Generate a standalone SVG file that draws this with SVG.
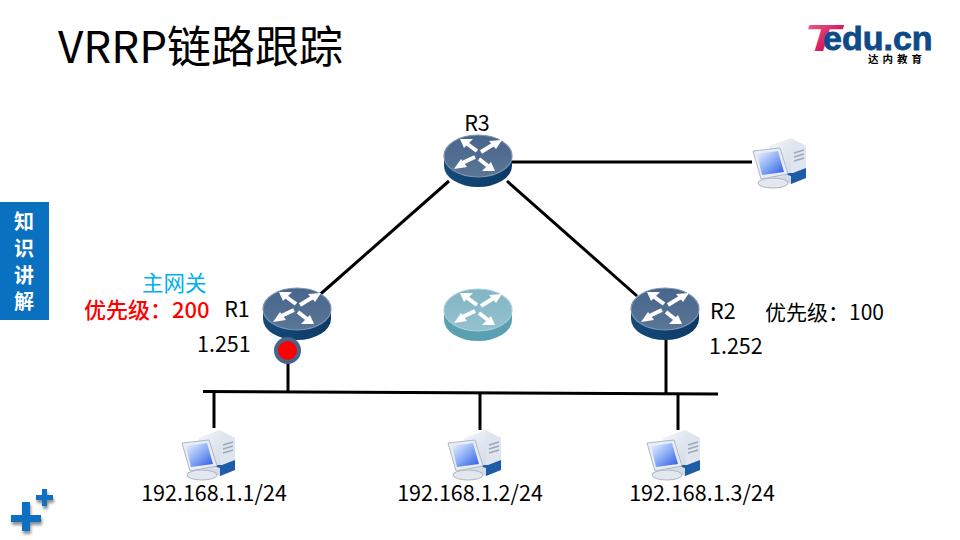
<svg xmlns="http://www.w3.org/2000/svg" width="960" height="540" viewBox="0 0 960 540">
<style>
text{font-family:"Noto Sans CJK SC","Noto Sans",sans-serif;fill:#000}
.lb{font-size:21.500px}
.ln{stroke:#000;stroke-width:3;fill:none}
.ar{fill:#fff}
.sf{stroke:#fff;stroke-width:4;fill:none}
</style>
<defs>
<linearGradient id="top" x1="0" y1="0" x2="0" y2="1"><stop offset="0" stop-color="#47648c"/><stop offset="1" stop-color="#5a7696"/></linearGradient>
<linearGradient id="side" x1="0" y1="0" x2="1" y2="0"><stop offset="0" stop-color="#154a78"/><stop offset="1" stop-color="#0c3a66"/></linearGradient>
<linearGradient id="top2" x1="0" y1="0" x2="0" y2="1"><stop offset="0" stop-color="#82b4c4"/><stop offset="1" stop-color="#94c2cf"/></linearGradient>
<linearGradient id="scr" x1="0" y1="0" x2="1" y2="1"><stop offset="0" stop-color="#f0f5ff"/><stop offset=".55" stop-color="#7fa5f4"/><stop offset="1" stop-color="#2f55e0"/></linearGradient>
<linearGradient id="twr" x1="0" y1="0" x2="1" y2="1"><stop offset="0" stop-color="#f4f6fa"/><stop offset="1" stop-color="#c3cfe0"/></linearGradient>
<linearGradient id="tlogo" x1="0" y1="0" x2="1" y2="1"><stop offset="0" stop-color="#ee6f96"/><stop offset=".6" stop-color="#d2195c"/><stop offset="1" stop-color="#a8103f"/></linearGradient>
<filter id="sh" x="-30%" y="-30%" width="170%" height="170%"><feGaussianBlur in="SourceAlpha" stdDeviation="1.500"/><feOffset dx="1" dy="3"/><feComponentTransfer><feFuncA type="linear" slope=".45"/></feComponentTransfer><feMerge><feMergeNode/><feMergeNode in="SourceGraphic"/></feMerge></filter>
<g id="arrows">
<path class="ar" d="M-18 -17 L-5 -17 L-14 -8 Z"/><path class="sf" d="M-12 -13 L-1 -5"/>
<path class="ar" d="M24 -16 L11 -15 L18 -7 Z"/><path class="sf" d="M16 -12 L3 -4"/>
<path class="ar" d="M-24 13 L-17 3 L-11 11 Z"/><path class="sf" d="M-18 8 L-3 1"/>
<path class="ar" d="M17 15 L4 15 L13 6 Z"/><path class="sf" d="M10 10 L1 3"/>
</g>
<g id="router">
<path d="M-34 0 V10 A34 21 0 0 0 34 10 V0 Z" fill="url(#side)"/>
<ellipse rx="34" ry="21" fill="url(#top)" stroke="#7e95ae" stroke-width="1.200"/>
<use href="#arrows"/>
</g>
<g id="pc">
<path d="M16 8 L38 0 L53 8 V40 L38 46 L16 38 Z" fill="url(#twr)"/>
<path d="M38 4 L53 8 V40 L38 46 Z" fill="#dfe5ee"/>
<path d="M28 35 L38 38 V46 L53 40 V30 L40 35 Z" fill="#1f5ca8"/>
<path d="M41 15 L51 12 M41 19 L51 16 M41 23 L51 20" stroke="#9aa8ba" stroke-width="1.400"/>
<ellipse cx="20" cy="45" rx="15" ry="5" fill="#e4e8ee" stroke="#aab4c2"/>
<path d="M0 13 L27 10 L35 36 L8 41 Z" fill="#e9edf3" stroke="#aeb8c6"/>
<path d="M4 16 L25 13 L31 34 L9 37 Z" fill="url(#scr)"/>
</g>
</defs>
<rect width="960" height="540" fill="#fff"/>
<text x="58" y="63" font-size="44">VRRP链路跟踪</text>
<g id="logo">
<text x="804" y="51" font-size="37" font-weight="700" font-style="italic" textLength="36" lengthAdjust="spacingAndGlyphs" style="font-family:'Liberation Sans',sans-serif;fill:url(#tlogo)">T</text>
<text font-weight="700"><tspan x="823" y="50" font-size="34" stroke="#0d4a8a" stroke-width=".8" style="font-family:'Liberation Sans',sans-serif;fill:#0d4a8a">edu.cn</tspan><tspan x="868" y="63" font-size="10.500" letter-spacing="4" style="fill:#000">达内教育</tspan></text>
</g>
<g id="sidebar">
<rect x="0" y="202" width="49" height="118" fill="#0a70c0"/>
<text font-size="20" font-weight="700" text-anchor="middle" style="fill:#fff"><tspan x="24" y="229">知</tspan><tspan x="24" y="256">识</tspan><tspan x="24" y="283">讲</tspan><tspan x="24" y="309">解</tspan></text>
</g>
<g id="plus" fill="#0a70c0" filter="url(#sh)">
<path d="M22 502 H30 V515 H41 V522 H30 V531 H22 V522 H11 V515 H22 Z"/>
<path d="M42 489 H47 V495 H53 V500 H47 V506 H42 V500 H36 V495 H42 Z"/>
</g>
<g id="connectors">
<path class="ln" d="M512 162 H752"/>
<path class="ln" d="M449 181 L316 298"/>
<path class="ln" d="M507 181 L637 296"/>
<path class="ln" d="M203 391.500 L718 394"/>
<path class="ln" d="M288 360 V392"/>
<path class="ln" d="M666 338 V393"/>
<path class="ln" d="M214 392 V428"/>
<path class="ln" d="M480 393 V430"/>
<path class="ln" d="M678 394 V430"/>
</g>
<g id="R3"><use href="#router" x="478" y="156"/><text class="lb" x="477" y="131" text-anchor="middle">R3</text></g>
<g id="R1"><use href="#router" x="297" y="309"/><text class="lb" x="237" y="317" text-anchor="middle">R1</text><text class="lb" x="197" y="352">1.251</text></g>
<g id="R2"><use href="#router" x="665" y="309"/><text class="lb" x="710" y="319">R2</text><text class="lb" x="709" y="354">1.252</text><text x="765" y="320" font-size="21">优先级：100</text></g>
<g id="Rv"><path d="M444 310 V320 A34 21 0 0 0 512 320 V310 Z" fill="#5a9fb2"/><ellipse cx="478" cy="310" rx="34" ry="21" fill="url(#top2)" stroke="#a9cfd9" stroke-width="1.200"/><use href="#arrows" x="478" y="310"/></g>
<g id="master"><text font-size="21.500" style="fill:#00b0f0"><tspan x="142" y="291">主网关</tspan><tspan x="84" y="318" font-size="22" font-weight="500" style="fill:#f00">优先级：200</tspan></text></g>
<g id="track"><circle cx="287.500" cy="350.500" r="11.500" fill="#f00" stroke="#47648c" stroke-width="4"/></g>
<g id="pc-top"><use href="#pc" x="753" y="138"/></g>
<g id="pc1"><use href="#pc" x="182" y="430"/><text class="lb" x="214" y="501" text-anchor="middle">192.168.1.1/24</text></g>
<g id="pc2"><use href="#pc" x="448" y="430"/><text class="lb" x="470" y="501" text-anchor="middle">192.168.1.2/24</text></g>
<g id="pc3"><use href="#pc" x="647" y="430"/><text class="lb" x="702" y="501" text-anchor="middle">192.168.1.3/24</text></g>
</svg>
